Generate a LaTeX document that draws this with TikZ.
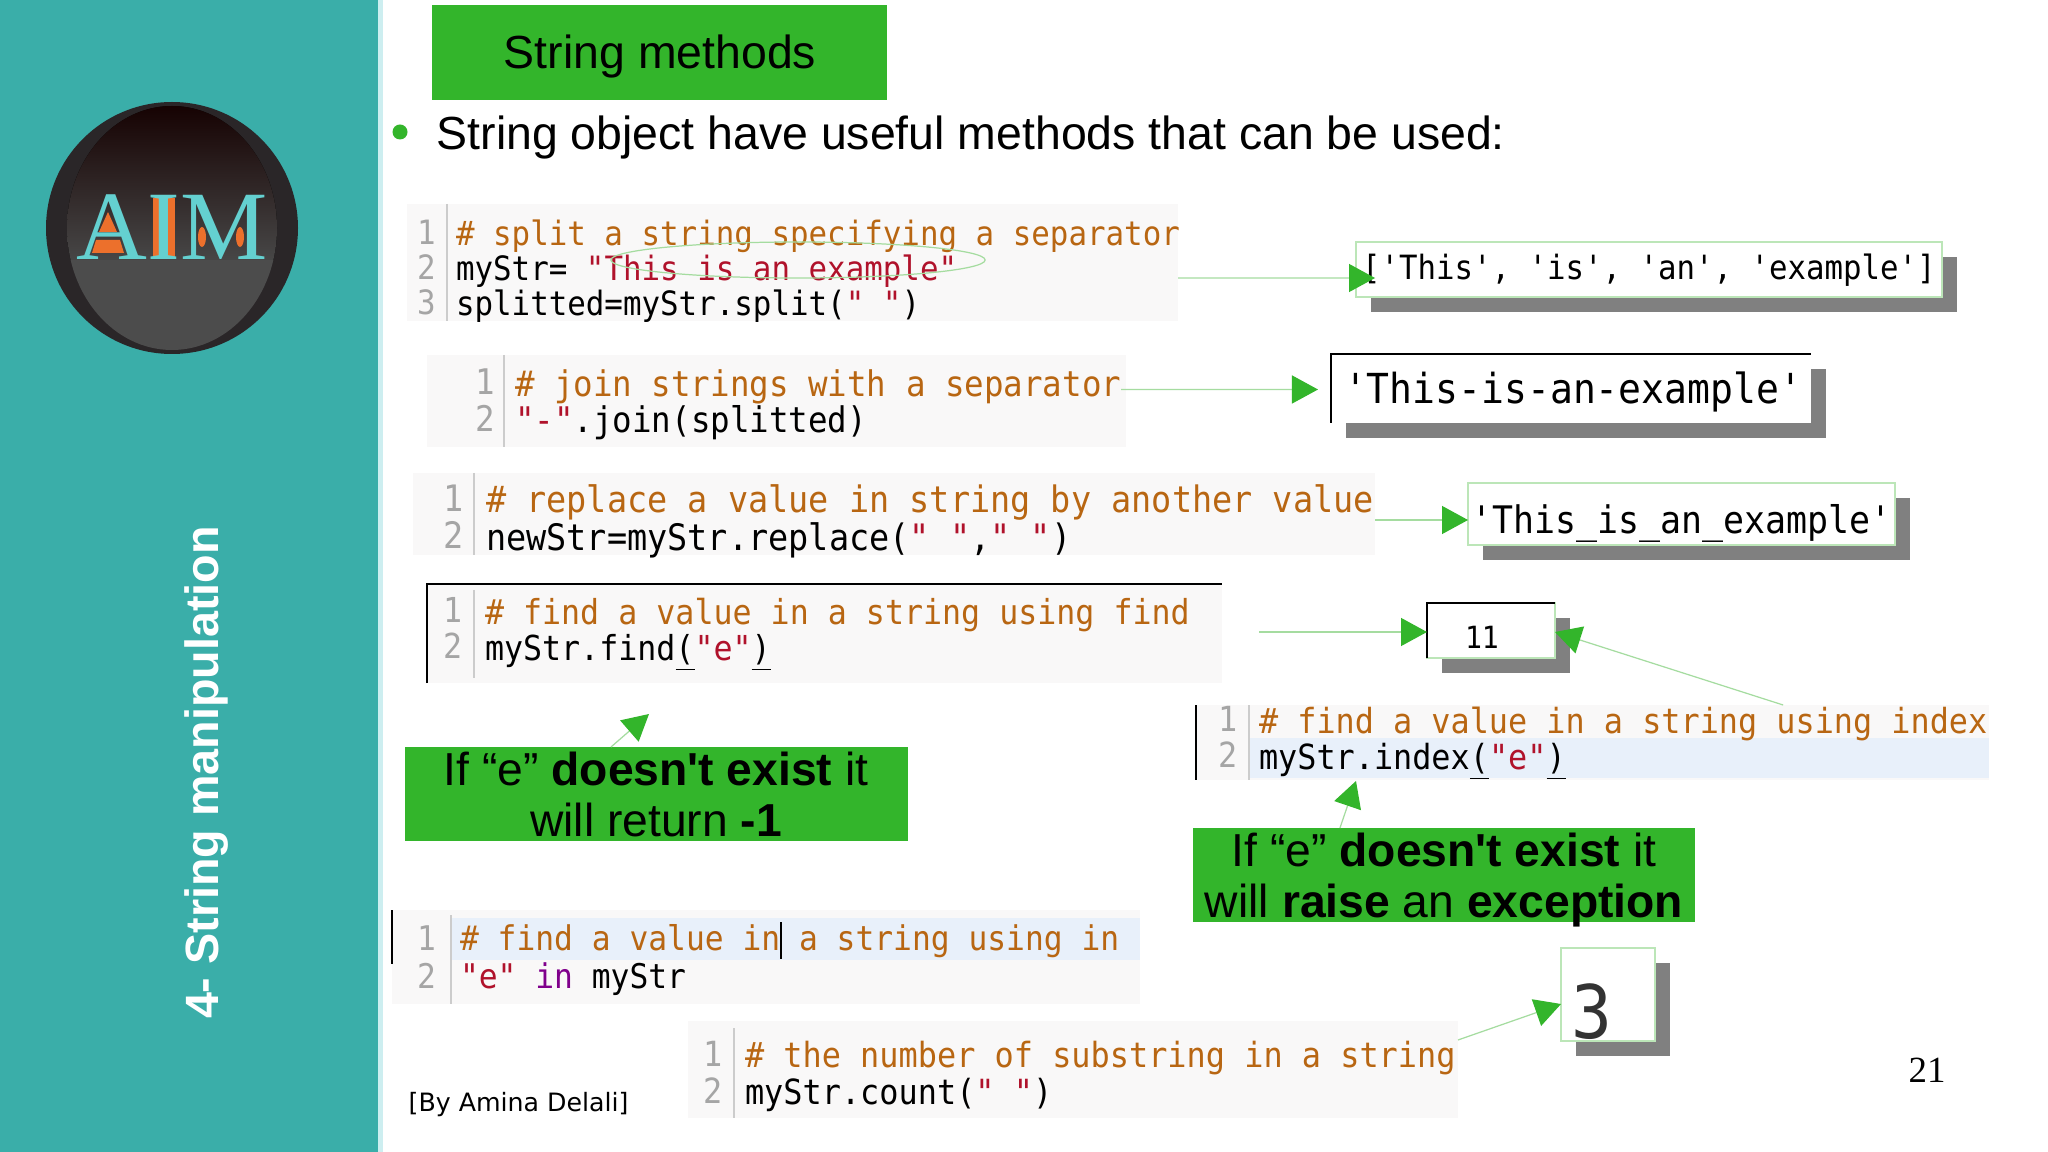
\documentclass[tikz,border=0pt]{standalone}
\usepackage{fontspec}
\setmainfont{Liberation Sans}[Ligatures=TeXOff]
\newfontfamily\codefont[FakeStretch=0.92]{DejaVu Sans Mono}
\newfontfamily\creditfont{DejaVu Sans}
\newfontfamily\logofont{Liberation Serif}
\usetikzlibrary{positioning,fit,shapes,shadows,arrows.meta}
\definecolor{myteal}{RGB}{58,174,169}
\definecolor{mypale}{RGB}{205,238,240}
\definecolor{mygreen}{RGB}{51,181,43}
\definecolor{mylightgreen}{RGB}{165,220,160}
\definecolor{myframe}{RGB}{188,230,184}
\definecolor{mygray}{RGB}{128,128,128}
\definecolor{mypanel}{RGB}{249,248,248}
\definecolor{myhighlight}{RGB}{232,240,250}
\definecolor{mycomment}{RGB}{184,102,18}
\definecolor{mystring}{RGB}{176,18,43}
\definecolor{mykeyword}{RGB}{128,0,140}
\definecolor{mynumber}{RGB}{165,165,165}
\definecolor{mylogo}{RGB}{100,208,208}
\definecolor{myorange}{RGB}{236,112,44}
\definecolor{myring}{RGB}{42,38,40}
\newcommand{\cmt}[1]{\textcolor{mycomment}{#1}}
\newcommand{\str}[1]{\textcolor{mystring}{#1}}
\newcommand{\parenmark}[1]{\underline{#1}}
\newcommand{\tightcode}{\lineskiplimit=-10pt\relax}
\tikzstyle{panel}=[rectangle, inner sep=0, outer sep=0, fill=mypanel]
\tikzstyle{greenbox}=[rectangle, inner sep=0, outer sep=0, fill=mygreen]
\tikzstyle{outbox}=[rectangle, inner sep=0, outer sep=0, fill=white, drop shadow={shadow xshift=0.15cm, shadow yshift=-0.15cm, fill=mygray, opacity=1}]
\tikzstyle{codetext}=[anchor=north west, align=left, inner sep=0, outer sep=0]
\tikzstyle{numtext}=[codetext, text=mynumber]
\tikzstyle{outtext}=[anchor=base west, inner sep=0, outer sep=0]
\tikzstyle{slidetext}=[anchor=base, align=center, inner sep=0, font=\fontsize{13.15}{14.5}\selectfont]
\tikzstyle{gutter}=[line width=0.4pt, black!20]
\tikzstyle{edge}=[line width=0.8pt, black]
\tikzstyle{flow}=[-{Triangle[length=0.26cm,width=0.28cm,color=mygreen]}, line width=0.35pt, mylightgreen]
\tikzset{codesize/.style 2 args={font=\codefont\fontsize{#1}{#2}\selectfont\tightcode}}

\begin{document}
\begin{tikzpicture}[x=0.01cm, y=-0.01cm]
\useasboundingbox (0,0) rectangle (2048,1152);
\fill[white] (0,0) rectangle (2048,1152);

% sidebar
\fill[mypale] (378,0) rectangle (383,1152);
\fill[myteal] (0,0) rectangle (378,1152);
\node[rotate=90, anchor=base, text=white, font=\bfseries\fontsize{13.28}{15}\selectfont] (sidetitle) at (218,772.5) {4- String manipulation};

% logo
\fill[myring] (172,228) circle (126);
\begin{scope}
    \clip (172,228) ellipse [x radius=105, y radius=122];
    \fill[top color=black!92!red, bottom color=black!72, shading angle=0] (40,100) rectangle (310,262);
    \fill[black!70] (40,260) rectangle (310,360);
\end{scope}
\fill[myorange] (108,212) -- (117,232) -- (99,232) -- cycle;
\fill[myorange] (96,240) -- (120,240) -- (124,253) -- (92,253) -- cycle;
\fill[myorange] (153,198) rectangle (175,258);
\fill[myorange] (202,237) ellipse [x radius=4, y radius=10];
\fill[myorange] (240,237) ellipse [x radius=4, y radius=10];
\node[anchor=base, text=mylogo, inner sep=0, font=\logofont\fontsize{27.9}{28}\selectfont] (logo) at (172,260) {AIM};

% title
\node[greenbox, fit={(432,5) (887,100)}] (titlebox) {};
\node[anchor=base, inner sep=0, font=\fontsize{13.2}{15}\selectfont] (title) at (660,69) {String methods};
\node[circle, fill=mygreen, inner sep=0, minimum size=0.15cm] (bullet) at (400,132) {};
\node[anchor=base west, inner sep=0, font=\fontsize{13.2}{15}\selectfont] (intro) at (436,150) {String object have useful methods that can be used:};

% code panels
\node[panel, fit={(407,204) (1178,321)}] (bgA) {};
\draw[gutter] (447,204) -- (447,321);
\node[numtext, codesize={9.53}{9.96}] (numA) at (417,219.7) {\strut 1\\2\\3};
\node[codetext, codesize={9.53}{9.96}] (codeA) at (456,219.7) {\strut\cmt{\# split a string specifying a separator}\\myStr= \str{"This is an example"}\\splitted=myStr.split(\str{" "})};
\node[ellipse, draw=mylightgreen, line width=0.35pt, inner sep=0, minimum width=3.74cm, minimum height=0.36cm] (markA) at (798,260) {};

\node[panel, fit={(427,355) (1126,447)}] (bgB) {};
\draw[gutter] (504,355) -- (504,447);
\node[numtext, codesize={10.04}{10.39}] (numB) at (475,369.2) {\strut 1\\2};
\node[codetext, codesize={10.04}{10.39}] (codeB) at (515,369.2) {\strut\cmt{\# join strings with a separator}\\\str{"-"}.join(splitted)};

\node[panel, fit={(413,473) (1375,555)}] (bgC) {};
\draw[gutter] (474,473) -- (474,555);
\node[numtext, codesize={10.36}{10.67}] (numC) at (443,484.7) {\strut 1\\2};
\node[codetext, codesize={10.36}{10.67}] (codeC) at (486,484.7) {\strut\cmt{\# replace a value in string by another value}\\newStr=myStr.replace(\str{" "},\str{" "})};

\node[panel, fit={(427,584) (1222,683)}] (bgD) {};
\draw[gutter] (474,590) -- (474,678);
\draw[edge] (bgD.south west) -- (bgD.north west) -- (bgD.north east);
\node[numtext, codesize={9.78}{10.24}] (numD) at (443,597.7) {\strut 1\\2};
\node[codetext, codesize={9.78}{10.24}] (codeD) at (485,597.7) {\strut\cmt{\# find a value in a string using find}\\myStr.find\parenmark{(}\str{"e"}\parenmark{)}};

\node[panel, fit={(1196,705) (1989,780)}] (bgE) {};
\fill[myhighlight] (1249,738) rectangle (1989,778);
\draw[gutter] (1249,705) -- (1249,780);
\draw[edge] (bgE.north west) -- (bgE.south west);
\node[numtext, codesize={9.84}{10.24}] (numE) at (1218,706.7) {\strut 1\\2};
\node[codetext, codesize={9.84}{10.24}] (codeE) at (1259,706.7) {\strut\cmt{\# find a value in a string using index}\\myStr.index\parenmark{(}\str{"e"}\parenmark{)}};

\node[panel, fit={(392,910) (1140,1004)}] (bgF) {};
\fill[myhighlight] (451,918) rectangle (1140,960);
\draw[gutter] (451,915) -- (451,1004);
\draw[edge] (392,910) -- (392,964);
\node[numtext, codesize={9.67}{10.81}] (numF) at (417,924.1) {\strut 1\\2};
\node[codetext, codesize={9.67}{10.81}] (codeF) at (460,924.1) {\strut\cmt{\# find a value in a string using in}\\\str{"e"} \textcolor{mykeyword}{in} myStr};
\draw[line width=0.5pt, black] (781,922) -- (781,959);

\node[panel, fit={(688,1021) (1458,1118)}] (bgG) {};
\draw[gutter] (734,1028) -- (734,1118);
\node[numtext, codesize={9.86}{10.39}] (numG) at (703,1041.2) {\strut 1\\2};
\node[codetext, codesize={9.86}{10.39}] (codeG) at (745,1041.2) {\strut\cmt{\# the number of substring in a string}\\myStr.count(\str{" "})};

% outputs
\node[outbox, draw=myframe, line width=0.35pt, fit={(1356,242) (1942,297)}] (outA) {};
\node[outtext, codesize={9.5}{10}] (textA) at (1362,280) {['This', 'is', 'an', 'example']};

\node[outbox, fit={(1331,354) (1811,423)}] (outB) {};
\draw[edge] (outB.south west) -- (outB.north west) -- (outB.north east);
\node[outtext, codesize={11.76}{12}] (textB) at (1344,404) {'This-is-an-example'};

\node[outbox, draw=myframe, line width=0.35pt, fit={(1468,483) (1895,545)}] (outC) {};
\node[outtext, codesize={10.79}{11}] (textC) at (1471,534) {'This\_is\_an\_example'};

\node[outbox, draw=myframe, line width=0.35pt, fit={(1427,603) (1555,658)}] (outD) {};
\draw[edge] (outD.south west) -- (outD.north west) -- (outD.north east);
\node[outtext, codesize={8.7}{9}] (textD) at (1465,648) {11};

\node[outbox, draw=myframe, line width=0.35pt, fit={(1561,948) (1655,1041)}] (outE) {};
\node[outtext, text=black!80, codesize={21}{22}] (textE) at (1571,1038) {3};

% callouts
\node[greenbox, fit={(405,747) (908,841)}] (callA) {};
\node[slidetext] (noteA) at (656,836) {If “e” \textbf{doesn't exist} it\\will return \textbf{-1}};
\node[greenbox, fit={(1193,828) (1695,922)}] (callB) {};
\node[slidetext] (noteB) at (1444,917) {If “e” \textbf{doesn't exist} it\\will \textbf{raise} an \textbf{exception}};

% credit and page number
\node[anchor=base west, inner sep=0, font=\creditfont\fontsize{7.18}{8}\selectfont] (credit) at (408,1111) {[By Amina Delali]};
\node[anchor=base, inner sep=0, font=\logofont\fontsize{10.5}{12}\selectfont] (page) at (1927,1082) {21};

% connectors
\coordinate (tipA) at (649,714);
\coordinate (tipB) at (1356,781);
\begin{scope}[flow]
    \draw ([yshift=-0.155cm]bgA.east) to ([xshift=0.19cm,yshift=-0.085cm]outA.west);
    \draw ([xshift=-0.05cm,yshift=0.115cm]bgB.east) to ([xshift=-0.13cm,yshift=-0.01cm]outB.west);
    \draw ([yshift=-0.06cm]bgC.east) to ([yshift=-0.06cm]outC.west);
    \draw ([xshift=0.37cm,yshift=-0.015cm]bgD.east |- outD.west) to ([yshift=-0.015cm]outD.west);
    \draw ([xshift=1.905cm]bgE.north) to ([yshift=-0.015cm]outD.east);
    \draw ([xshift=-0.455cm]callA.north) to (tipA);
    \draw ([xshift=-1.04cm]callB.north) to (tipB);
    \draw ([yshift=0.295cm]bgG.east) to ([yshift=-0.095cm]outE.west);
\end{scope}
\end{tikzpicture}
\end{document}
